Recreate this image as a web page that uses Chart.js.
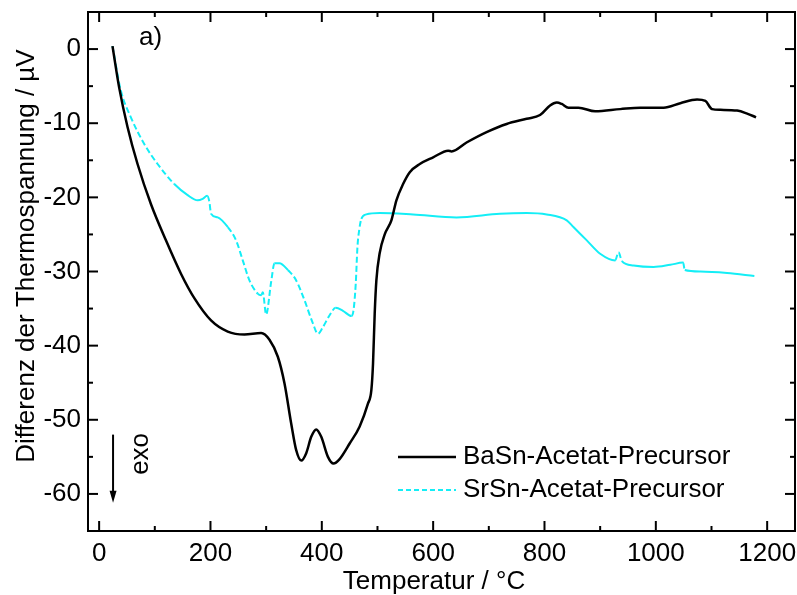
<!DOCTYPE html>
<html>
<head>
<meta charset="utf-8">
<script src="https://cdn.jsdelivr.net/npm/chart.js@4.4.0/dist/chart.umd.min.js"></script>
<style>
html,body{margin:0;padding:0;background:#fff;}
#wrap{width:797px;height:595px;}
</style>
</head>
<body>
<div id="wrap"><canvas id="c" width="797" height="595"></canvas></div>
<script>
// ---- data ----
const baLabel = 'BaSn-Acetat-Precursor';
const baX = [24,36,51,69,93,120,147,171,201,231,261,291,306,321,333,345,354,363,372,381,390,399,411,421,432,450,468,483,489,492,495,498,504,513,525,534,546,558,576,600,627,633,660,696,732,768,792,810,822,831,843,861,891,936,972,1014,1044,1074,1089,1101,1116,1146,1164,1180];
const baY = [0.4,-5.2,-10.5,-15.5,-20.9,-25.8,-30.3,-33.6,-36.6,-38.1,-38.5,-38.3,-39.2,-41.5,-45.1,-50.5,-54.1,-55.5,-54.5,-52.3,-51.3,-52.3,-55.0,-55.9,-55.3,-53.2,-50.9,-47.8,-46.0,-42.4,-35.7,-31.2,-27.5,-25.0,-23.1,-20.4,-18.2,-16.6,-15.5,-14.6,-13.7,-13.8,-12.6,-11.2,-10.1,-9.4,-8.9,-7.6,-7.2,-7.4,-7.9,-7.9,-8.4,-8.1,-7.9,-7.9,-7.3,-6.8,-7.0,-8.1,-8.2,-8.3,-8.7,-9.2];

const srLabel = 'SrSn-Acetat-Precursor';
const srX = [24,39,57,81,105,135,159,177,186,194,198,201,213,231,246,258,270,285,291,294,300,309,315,324,339,354,369,384,393,402,414,425,438,453,457,461,464,467,471,480,504,564,642,720,768,804,840,852,876,900,927,933,939,960,996,1026,1049,1052,1080,1128,1177];
const srY = [0.4,-5.6,-9.2,-12.8,-15.5,-18.2,-19.7,-20.4,-20.2,-19.8,-20.6,-22.2,-22.7,-24.0,-25.8,-28.5,-31.2,-33.0,-33.2,-32.8,-35.8,-31.4,-28.9,-28.9,-29.8,-31.2,-33.9,-37.0,-38.4,-37.5,-35.9,-34.9,-35.3,-36.0,-35.2,-31.6,-26.7,-24.5,-22.9,-22.3,-22.1,-22.3,-22.7,-22.2,-22.1,-22.3,-23.1,-24.0,-25.8,-27.6,-28.5,-27.4,-28.6,-29.2,-29.4,-29.1,-28.8,-29.8,-30.0,-30.2,-30.6];

const xTicks = [0,200,400,600,800,1000,1200];
const xMinorTicks = [100,300,500,700,900,1100];
const yTicks = [-60,-50,-40,-30,-20,-10,0];
const yMinorTicks = [-55,-45,-35,-25,-15,-5];

const xTitle = 'Temperatur / °C';
const yTitle = 'Differenz der Thermospannung / µV';
const panelLabel = 'a)';
const exoLabel = 'exo';

// ---- rendering ----
const FONT = '"Liberation Sans", Arial, sans-serif';
const toPts = (xs, ys) => xs.map((v, i) => ({x: v, y: ys[i]}));

const decor = {
  id: 'decor',
  afterDraw(chart) {
    const {ctx, chartArea: {left, right, top, bottom}, scales: {x, y}} = chart;
    ctx.save();
    ctx.strokeStyle = '#000';
    ctx.lineWidth = 2;
    ctx.lineCap = 'butt';
    ctx.strokeRect(left, top, right - left, bottom - top);
    const seg = (a, b, c, d) => { ctx.beginPath(); ctx.moveTo(a, b); ctx.lineTo(c, d); ctx.stroke(); };
    const MAJ = 10, MIN = 5;
    xTicks.forEach(v => { const p = x.getPixelForValue(v); seg(p, bottom, p, bottom - MAJ); seg(p, top, p, top + MAJ); });
    xMinorTicks.forEach(v => { const p = x.getPixelForValue(v); seg(p, bottom, p, bottom - MIN); seg(p, top, p, top + MIN); });
    yTicks.forEach(v => { const p = y.getPixelForValue(v); seg(left, p, left + MAJ, p); seg(right, p, right - MAJ, p); });
    yMinorTicks.forEach(v => { const p = y.getPixelForValue(v); seg(left, p, left + MIN, p); seg(right, p, right - MIN, p); });

    // axis titles
    ctx.fillStyle = '#000';
    ctx.font = '26px ' + FONT;
    ctx.textAlign = 'center';
    ctx.textBaseline = 'alphabetic';
    ctx.fillText(xTitle, 434, 589);
    ctx.save();
    ctx.translate(34, 256);
    ctx.rotate(-Math.PI / 2);
    ctx.fillText(yTitle, 0, 0);
    ctx.restore();

    // panel label
    ctx.textAlign = 'left';
    ctx.fillText(panelLabel, 139, 45);

    // exo arrow
    const ax = x.getPixelForValue(25);
    const ay0 = y.getPixelForValue(-52);
    const ay1 = y.getPixelForValue(-61.2);
    ctx.lineWidth = 2;
    seg(ax, ay0, ax, ay1 - 8);
    ctx.beginPath();
    ctx.moveTo(ax - 3.5, ay1 - 12);
    ctx.lineTo(ax + 3.5, ay1 - 12);
    ctx.lineTo(ax, ay1);
    ctx.closePath();
    ctx.fill();
    ctx.save();
    ctx.translate(x.getPixelForValue(74) + 8, y.getPixelForValue(-54.6));
    ctx.rotate(-Math.PI / 2);
    ctx.textAlign = 'center';
    ctx.fillText(exoLabel, 0, 0);
    ctx.restore();

    // legend
    const rows = [457, 490];
    chart.data.datasets.forEach((ds, i) => {
      const ry = rows[i];
      ctx.strokeStyle = ds.borderColor;
      ctx.lineWidth = ds.borderWidth;
      ctx.setLineDash(ds.legendDash || []);
      seg(398, ry, 456, ry);
      ctx.setLineDash([]);
      ctx.textAlign = 'left';
      ctx.textBaseline = 'middle';
      ctx.fillStyle = '#000';
      ctx.fillText(ds.label, 463, ry);
    });
    ctx.restore();
  }
};

const steepDash = ctx => {
  const dx = Math.abs(ctx.p1.x - ctx.p0.x), dy = Math.abs(ctx.p1.y - ctx.p0.y);
  return dy > dx ? [6, 3] : undefined;
};

new Chart(document.getElementById('c'), {
  type: 'line',
  data: {
    datasets: [
      {label: baLabel, data: toPts(baX, baY), borderColor: '#000000', borderWidth: 2.5,
       pointRadius: 0, cubicInterpolationMode: 'monotone', fill: false},
      {label: srLabel, data: toPts(srX, srY), borderColor: '#14eef6', borderWidth: 2,
       pointRadius: 0, cubicInterpolationMode: 'monotone', fill: false, legendDash: [5, 3],
       segment: {borderDash: steepDash}}
    ]
  },
  options: {
    responsive: false,
    animation: false,
    devicePixelRatio: 1,
    layout: {padding: {left: 0, top: 12, right: 2, bottom: 0}},
    plugins: {legend: {display: false}, tooltip: {enabled: false}},
    scales: {
      x: {
        type: 'linear', min: -20, max: 1250,
        grid: {display: false, drawTicks: false},
        border: {display: false},
        afterBuildTicks: s => { s.ticks = xTicks.map(v => ({value: v})); },
        afterFit: s => { s.height = 64; s.paddingLeft = 0; s.paddingRight = 0; },
        ticks: {font: {family: FONT, size: 26}, color: '#000', padding: 7, maxRotation: 0, autoSkip: false,
                callback: v => String(v)}
      },
      y: {
        type: 'linear', min: -65, max: 5,
        grid: {display: false, drawTicks: false},
        border: {display: false},
        afterBuildTicks: s => { s.ticks = yTicks.map(v => ({value: v})); },
        afterFit: s => { s.width = 88; s.paddingTop = 0; s.paddingBottom = 0; },
        ticks: {font: {family: FONT, size: 26}, color: '#000', padding: 7, autoSkip: false,
                callback: v => String(v)}
      }
    }
  },
  plugins: [decor]
});
</script>
</body>
</html>
